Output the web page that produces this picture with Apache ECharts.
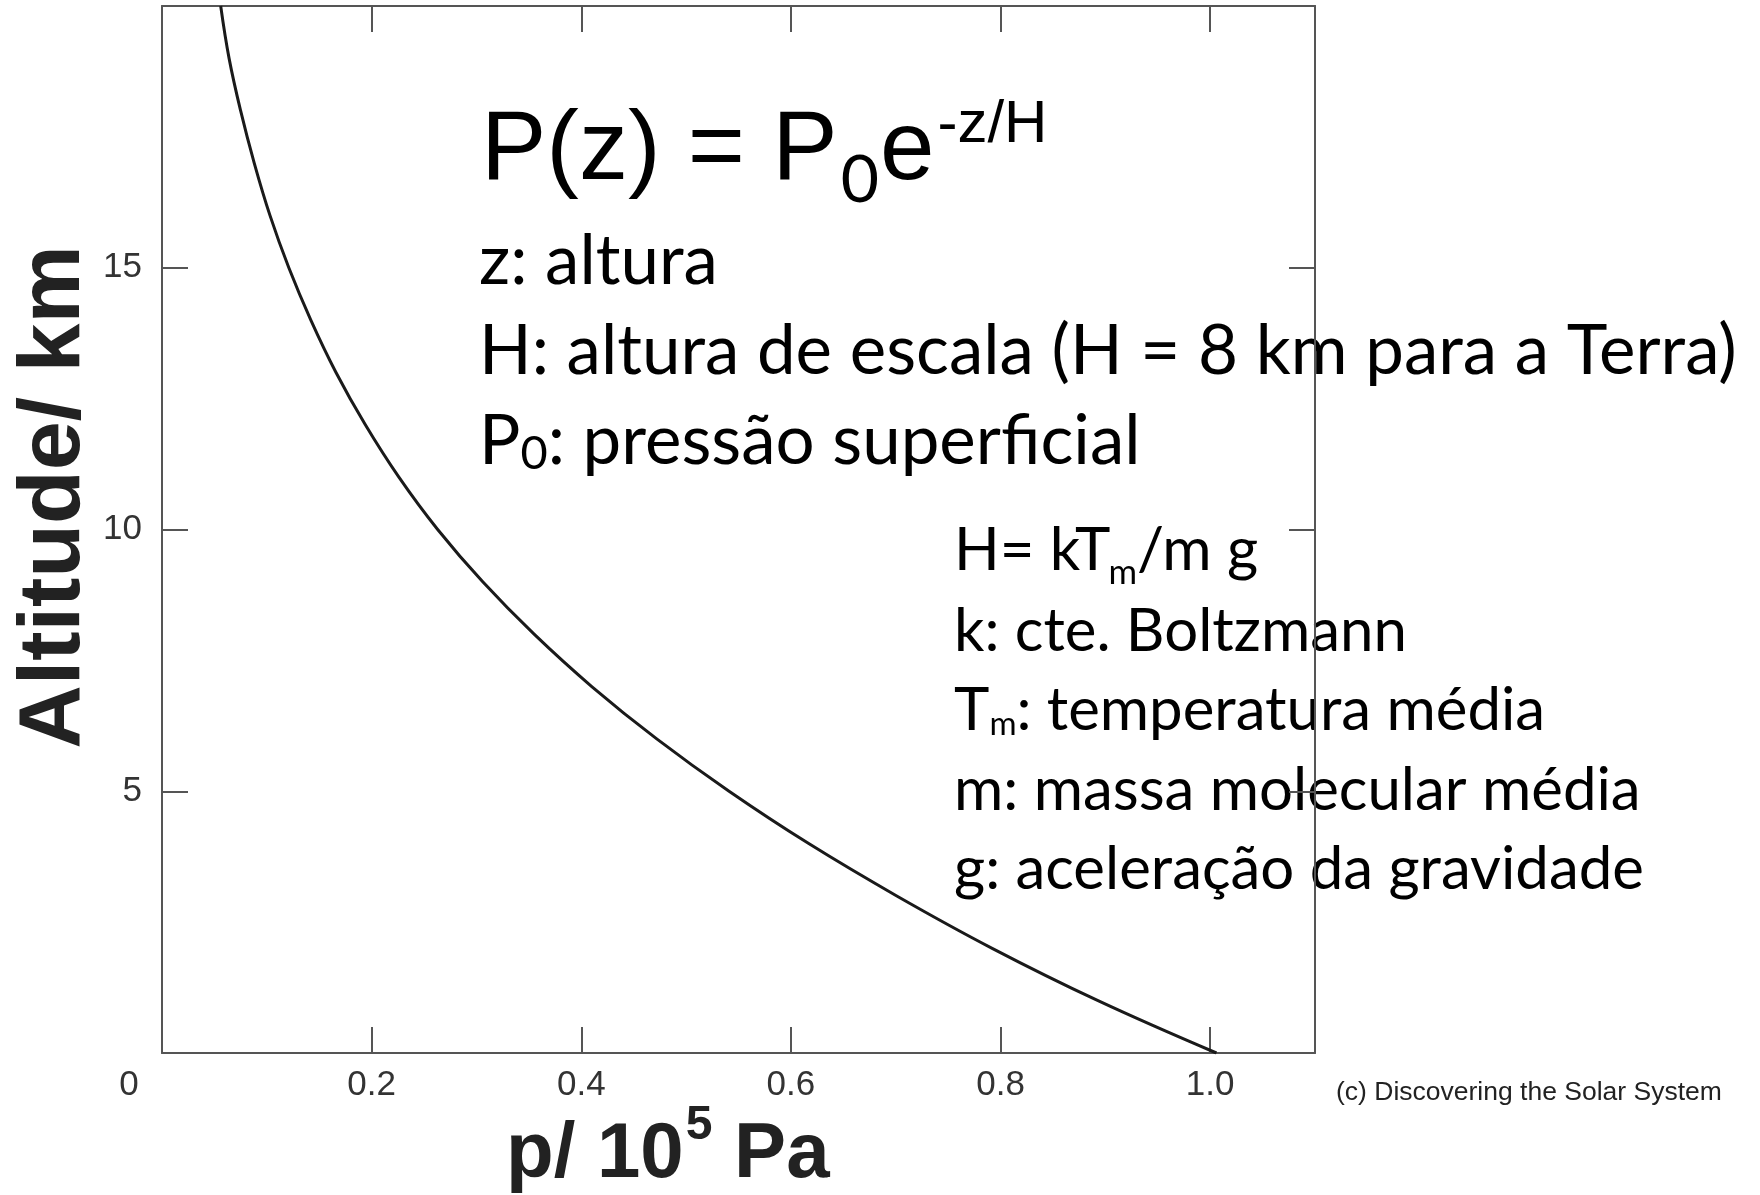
<!DOCTYPE html>
<html>
<head>
<meta charset="utf-8">
<script src="https://cdn.jsdelivr.net/npm/echarts@6.0.0/dist/echarts.min.js"></script>
<style>
html,body{margin:0;padding:0;background:#ffffff;}
#chart{width:1760px;height:1195px;}
</style>
</head>
<body>
<div id="chart"></div>
<script>
// ---- data ----
const altitudeKm = [0, 1, 2, 3, 4, 5, 6, 7, 8, 9, 10, 11, 12, 13, 14, 15, 16, 17, 18, 19, 20];
const pressure   = [1.006, 0.893, 0.792, 0.701, 0.617, 0.541, 0.472, 0.410, 0.355, 0.306, 0.263,
                    0.226, 0.194, 0.166, 0.142, 0.121, 0.103, 0.088, 0.075, 0.064, 0.056];
const xTickValues = [0, 0.2, 0.4, 0.6, 0.8, 1.0];
const xTickLabels = ['0', '0.2', '0.4', '0.6', '0.8', '1.0'];
const yTickValues = [5, 10, 15];
const yTickLabels = ['5', '10', '15'];

const yAxisTitle = 'Altitude/ km';
const xAxisTitleParts = ['p/ 10', '5', ' Pa'];
const formulaParts = ['P(z) = P', '0', 'e', '-z/H'];
const notesTop = ['z: altura', 'H: altura de escala (H = 8 km para a Terra)', ['P', '0', ': pressão superficial']];
const notesBottom = [['H= kT', 'm', '/m g'], 'k: cte. Boltzmann', ['T', 'm', ': temperatura média'],
                     'm: massa molecular média', 'g: aceleração da gravidade'];
const credit = '(c) Discovering the Solar System';

// ---- helpers for text layout ----
const ARIAL = "'Liberation Sans', Arial, Helvetica, sans-serif";
const CAL = "Lato, 'Noto Sans', sans-serif";
const mctx = document.createElement('canvas').getContext('2d');
function fontStr(f) { return (f.weight || 'normal') + ' ' + f.size + 'px ' + f.family; }
function measure(t, f) { mctx.font = fontStr(f); mctx.textBaseline = 'alphabetic'; return mctx.measureText(t).width; }
function midOffset(f) {
  mctx.font = fontStr(f); mctx.textBaseline = 'middle';
  const m = mctx.measureText('H'); mctx.textBaseline = 'alphabetic';
  return m.actualBoundingBoxDescent;
}
function textEl(t, x, baseline, f, color) {
  return {
    type: 'text', x: x, y: baseline - midOffset(f), silent: true,
    style: { text: t, fontFamily: f.family, fontSize: f.size, fontWeight: f.weight || 'normal',
             fill: color || '#000', align: 'left', verticalAlign: 'middle' }
  };
}
function runs(x0, baseline, parts, color) {
  let x = x0; const els = [];
  parts.forEach(p => {
    x += (p.dx || 0);
    els.push(textEl(p.t, x, baseline + (p.dy || 0), p.f, color));
    x += measure(p.t, p.f);
  });
  return els;
}
function fitSize(text, family, targetWidth) {
  const w = measure(text, { family: family, size: 100 });
  return 100 * targetWidth / w;
}

// block font sizes fitted to reference line widths
const topSize = fitSize(notesTop[1], CAL, 1258);
const botSize = fitSize(notesBottom[4], CAL, 690);
const fTop = { family: CAL, size: topSize };
const fBot = { family: CAL, size: botSize };

const graphics = [];
// big formula
const fForm = { family: ARIAL, size: 98 };
graphics.push(...runs(481, 180, [
  { t: formulaParts[0], f: fForm },
  { t: formulaParts[1], f: { family: CAL, size: 66 }, dy: 22, dx: 3 },
  { t: formulaParts[2], f: fForm, dx: 1 },
  { t: formulaParts[3], f: { family: ARIAL, size: 60 }, dy: -38, dx: 3 }
]));
// top notes
const topBase = [284, 374, 464];
graphics.push(textEl(notesTop[0], 479, topBase[0], fTop));
graphics.push(textEl(notesTop[1], 479, topBase[1], fTop));
graphics.push(...runs(479, topBase[2], [
  { t: notesTop[2][0], f: fTop },
  { t: notesTop[2][1], f: { family: CAL, size: topSize * 0.68 }, dy: 5 },
  { t: notesTop[2][2], f: fTop }
]));
// lower notes
const botBase = [570, 651, 730, 810, 889];
graphics.push(...runs(954, botBase[0], [
  { t: notesBottom[0][0], f: fBot },
  { t: notesBottom[0][1], f: { family: CAL, size: botSize * 0.58 }, dy: 14, dx: -2 },
  { t: notesBottom[0][2], f: fBot }
]));
graphics.push(textEl(notesBottom[1], 954, botBase[1], fBot));
graphics.push(...runs(954, botBase[2], [
  { t: notesBottom[2][0], f: fBot },
  { t: notesBottom[2][1], f: { family: CAL, size: botSize * 0.55 }, dy: 5 },
  { t: notesBottom[2][2], f: fBot }
]));
graphics.push(textEl(notesBottom[3], 954, botBase[3], fBot));
graphics.push(textEl(notesBottom[4], 954, botBase[4], fBot));
// axis titles
const fXT = { family: ARIAL, size: 78, weight: 'bold' };
graphics.push(...runs(506, 1177, [
  { t: xAxisTitleParts[0], f: fXT },
  { t: xAxisTitleParts[1], f: { family: ARIAL, size: 48, weight: 'bold' }, dy: -38, dx: 2 },
  { t: xAxisTitleParts[2], f: fXT }
], '#222'));
graphics.push({
  type: 'text', x: 55, y: 497, rotation: Math.PI / 2, silent: true,
  style: { text: yAxisTitle, fontFamily: ARIAL, fontSize: 88, fontWeight: 'bold', fill: '#222',
           align: 'center', verticalAlign: 'middle' }
});
// credit
graphics.push(textEl(credit, 1336, 1100, { family: ARIAL, size: 26.5 }, '#222'));

// ---- chart ----
const axisColor = '#555';
const lineStyle = { color: axisColor, width: 2 };
function xLabel(v) {
  const i = xTickValues.findIndex(t => Math.abs(t - v) < 1e-6);
  if (i < 0) return '';
  return i === 0 ? '{o|' + xTickLabels[0] + '}' : xTickLabels[i];
}
function yLabel(v) {
  const i = yTickValues.findIndex(t => Math.abs(t - v) < 1e-6);
  return i < 0 ? '' : yTickLabels[i];
}
const labelFont = { fontFamily: ARIAL, fontSize: 35, color: '#333' };

const chart = echarts.init(document.getElementById('chart'), null, { renderer: 'canvas' });
chart.setOption({
  animation: false,
  backgroundColor: '#ffffff',
  grid: { left: 162, right: 445, top: 6, bottom: 142, containLabel: false },
  xAxis: [
    { type: 'value', position: 'bottom', min: 0, max: 1.1, interval: 0.2,
      axisLine: { onZero: false, lineStyle: lineStyle },
      axisTick: { inside: true, length: 26, lineStyle: lineStyle },
      splitLine: { show: false },
      axisLabel: Object.assign({ margin: 15, formatter: xLabel,
        rich: { o: Object.assign({ padding: [0, 66, 0, 0] }, labelFont) } }, labelFont) },
    { type: 'value', position: 'top', min: 0, max: 1.1, interval: 0.2,
      axisLine: { onZero: false, lineStyle: lineStyle },
      axisTick: { inside: true, length: 26, lineStyle: lineStyle },
      splitLine: { show: false }, axisLabel: { show: false } }
  ],
  yAxis: [
    { type: 'value', position: 'left', min: 0, max: 20, interval: 5,
      axisLine: { onZero: false, lineStyle: lineStyle },
      axisTick: { inside: true, length: 26, lineStyle: lineStyle },
      splitLine: { show: false },
      axisLabel: Object.assign({ margin: 20, formatter: yLabel }, labelFont) },
    { type: 'value', position: 'right', min: 0, max: 20, interval: 5,
      axisLine: { onZero: false, lineStyle: lineStyle },
      axisTick: { inside: true, length: 26, lineStyle: lineStyle },
      splitLine: { show: false }, axisLabel: { show: false } }
  ],
  series: [{
    type: 'line', xAxisIndex: 0, yAxisIndex: 0,
    data: altitudeKm.map((z, i) => [pressure[i], z]),
    smooth: 0.4, showSymbol: false, clip: true,
    lineStyle: { color: '#1a1a1a', width: 3 }
  }],
  graphic: { elements: graphics }
});
</script>
</body>
</html>
